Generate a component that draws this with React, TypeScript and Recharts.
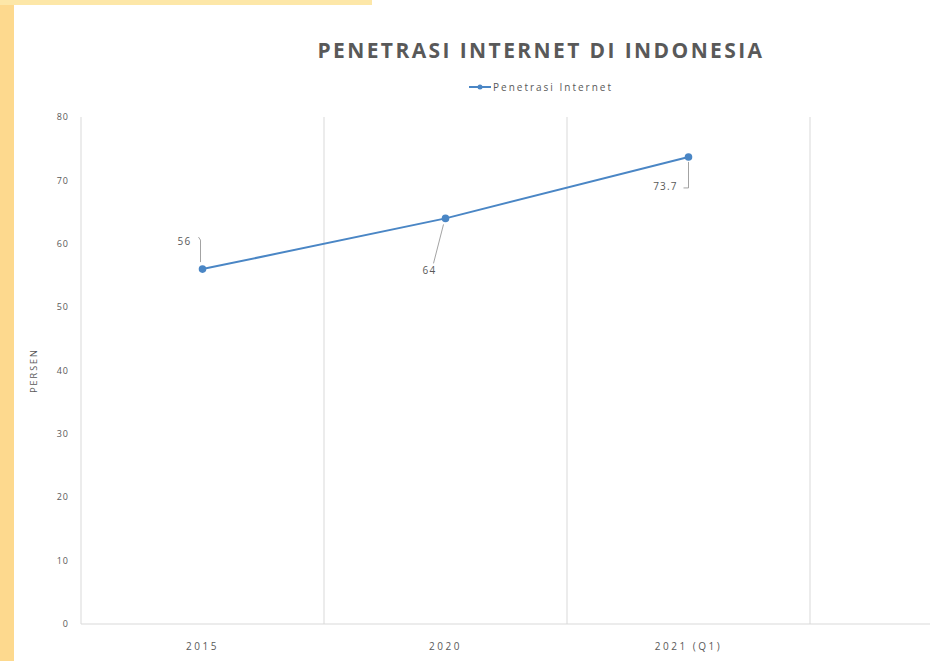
import { LineChart, Line, XAxis, YAxis, CartesianGrid, Legend, LabelList } from "recharts";

const YEARS = ["2015", "2020", "2021 (Q1)", ""];
const PENETRASI = [56, 64, 73.7, null];
const Y_TICKS = [0, 10, 20, 30, 40, 50, 60, 70, 80];

const LINE_COLOR = "#4a86c5";
const TEXT_COLOR = "#595959";
const GRID_COLOR = "#d9d9d9";
const FONT = "'Open Sans', 'Liberation Sans', sans-serif";

// leader-line placement for each data label, relative to its point
const LABEL_STYLE = [
  { tx: -18, ty: -24, line: [[-4, -32], [-2, -29], [-2, -7]] },
  { tx: -16, ty: 56, line: [[-2, 6], [-12, 45]] },
  { tx: -23, ty: 33, line: [[0, 5], [0, 31], [-5, 31]] },
];

const chartData = YEARS.map((year, i) => ({ year, value: PENETRASI[i] }));

const DataLabel = (props: any) => {
  const { x, y, value, index } = props;
  if (value == null || !LABEL_STYLE[index]) return null;
  const s = LABEL_STYLE[index];
  const pts = s.line.map(([dx, dy]) => `${x + dx},${y + dy}`).join(" ");
  return (
    <g>
      <polyline points={pts} fill="none" stroke="#8c8c8c" strokeWidth={0.8} />
      <text x={x + s.tx} y={y + s.ty} fill={TEXT_COLOR} fontSize={10} letterSpacing={1.2} fontFamily={FONT} textAnchor="middle">
        {value}
      </text>
    </g>
  );
};

const renderLegend = () => (
  <div style={{ display: "flex", alignItems: "center", justifyContent: "center", fontFamily: FONT, fontSize: 10, color: TEXT_COLOR }}>
    <svg width={22} height={8}>
      <line x1={0} y1={4} x2={22} y2={4} stroke={LINE_COLOR} strokeWidth={2} />
      <circle cx={11} cy={4} r={2.5} fill={LINE_COLOR} />
    </svg>
    <span style={{ marginLeft: 2, letterSpacing: 2 }}>Penetrasi Internet</span>
  </div>
);

export default function App() {
  return (
    <div style={{ position: "fixed", left: 0, top: 0, width: 930, height: 661, overflow: "hidden", background: "#fff" }}>
      <div style={{ position: "absolute", left: 0, top: 0, width: 14, height: 661, background: "#fdd98e" }} />
      <div style={{ position: "absolute", left: 0, top: 0, width: 372, height: 5, background: "#fde7a8" }} />
      <div
        style={{
          position: "absolute",
          left: 0,
          top: 37,
          width: 1082,
          textAlign: "center",
          fontFamily: FONT,
          fontWeight: 700,
          fontSize: 21,
          lineHeight: "26px",
          letterSpacing: 2.4,
          color: TEXT_COLOR,
        }}
      >
        PENETRASI INTERNET DI INDONESIA
      </div>
      <div style={{ position: "absolute", left: 0, top: 0 }}>
        <LineChart width={1063} height={661} data={chartData} margin={{ top: 117, right: 10, bottom: 7, left: 0 }}>
          <CartesianGrid
            horizontal={false}
            stroke={GRID_COLOR}
            verticalCoordinatesGenerator={({ offset }: any) =>
              [1, 2, 3].map((i) => offset.left + (i * offset.width) / YEARS.length)
            }
          />
          <XAxis
            dataKey="year"
            scale="band"
            axisLine={{ stroke: GRID_COLOR }}
            tickLine={false}
            tickMargin={13}
            height={30}
            tick={{ fill: TEXT_COLOR, fontSize: 10, fontFamily: FONT, letterSpacing: 2.5 }}
          />
          <YAxis
            width={81}
            domain={[0, 80]}
            ticks={Y_TICKS}
            axisLine={{ stroke: GRID_COLOR }}
            tickLine={false}
            tickMargin={6}
            tick={{ fill: TEXT_COLOR, fontSize: 9, fontFamily: FONT, letterSpacing: 1 }}
            label={{
              value: "PERSEN",
              angle: -90,
              position: "insideLeft",
              offset: 34,
              textAnchor: "middle",
              fill: TEXT_COLOR,
              fontSize: 9,
              letterSpacing: 2,
              fontFamily: FONT,
            }}
          />
          <Legend content={renderLegend} layout="horizontal" verticalAlign="middle" wrapperStyle={{ top: 80, left: 0, width: 1082 }} />
          <Line
            type="linear"
            dataKey="value"
            name="Penetrasi Internet"
            stroke={LINE_COLOR}
            strokeWidth={2}
            dot={{ r: 2.8, fill: LINE_COLOR, stroke: LINE_COLOR }}
            activeDot={false}
            isAnimationActive={false}
          >
            <LabelList dataKey="value" content={DataLabel} />
          </Line>
        </LineChart>
      </div>
    </div>
  );
}
